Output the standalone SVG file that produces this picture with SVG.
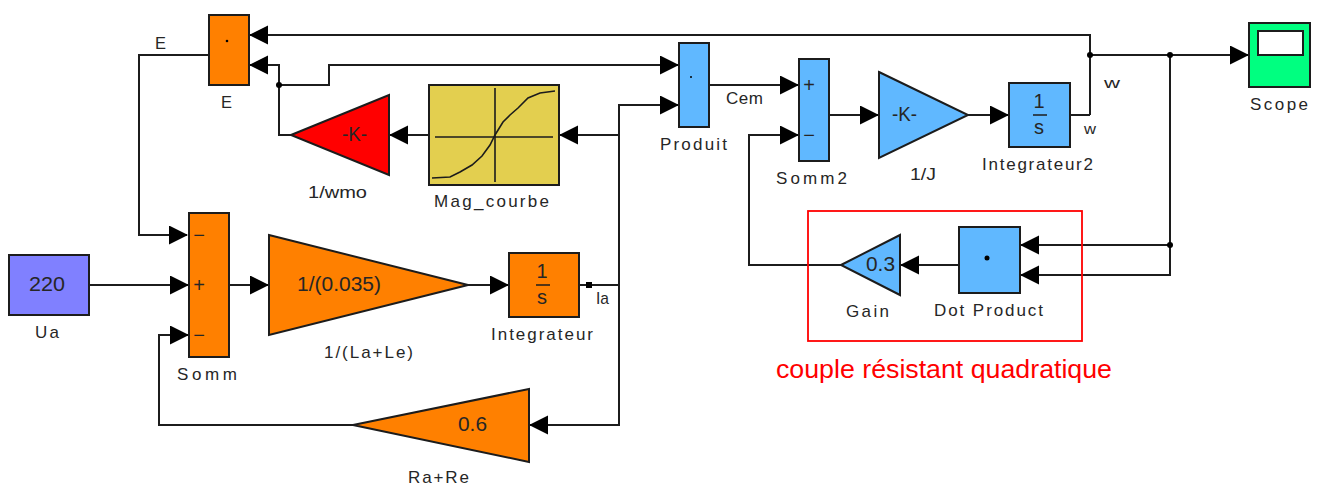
<svg xmlns="http://www.w3.org/2000/svg" width="1321" height="486" viewBox="0 0 1321 486">
<defs>
<marker id="arrow" markerUnits="userSpaceOnUse" markerWidth="20" markerHeight="20" refX="18" refY="9.5" orient="auto"><path d="M0 0L19 9.5L0 19Z" fill="#000"/></marker>
</defs>
<style>
.b{stroke:#1c1c1c;stroke-width:2}
.or{fill:#ff8000}.bl{fill:#60b8ff}
.w{fill:none;stroke:#1c1c1c;stroke-width:2}
.a{marker-end:url(#arrow)}
.t{font-family:"Liberation Sans",Arial,sans-serif;font-size:17px;fill:#262626}
.c{text-anchor:middle}
.s{font-size:20px}
.j{fill:#000}
</style>
<rect width="1321" height="486" fill="#fff"/>
<g id="connectors">
<polyline class="w a" points="209,55 139,55 139,235 187,235"/>
<polyline class="w a" points="1090,115 1090,35 250,35"/>
<polyline class="w" points="1070,115 1090,115"/>
<polyline class="w a" points="1090,55 1248,55"/>
<polyline class="w a" points="291,135 279,135 279,65 250,65"/>
<polyline class="w a" points="279,85 329,85 329,65 678,65"/>
<polyline class="w a" points="429,135 390,135"/>
<polyline class="w a" points="619,135 560,135"/>
<polyline class="w a" points="579,285 619,285 619,105 678,105"/>
<polyline class="w a" points="619,285 619,425 530,425"/>
<polyline class="w a" points="709,85 798,85"/>
<polyline class="w a" points="841,265 749,265 749,135 798,135"/>
<polyline class="w a" points="829,115 878,115"/>
<polyline class="w a" points="968,115 1008,115"/>
<polyline class="w a" points="959,265 901,265"/>
<polyline class="w a" points="1170,55 1170,245 1021,245"/>
<polyline class="w a" points="1170,245 1170,275 1021,275"/>
<polyline class="w a" points="89,285 188,285"/>
<polyline class="w a" points="229,285 268,285"/>
<polyline class="w a" points="468,285 508,285"/>
<polyline class="w a" points="353,425 159,425 159,335 188,335"/>
<circle class="j" cx="1090" cy="55" r="3"/>
<circle class="j" cx="1170" cy="55" r="3"/>
<circle class="j" cx="1170" cy="245" r="3"/>
<circle class="j" cx="279" cy="85" r="3"/>
<rect class="j" x="586" y="282" width="6" height="6"/>
</g>
<g id="E"><rect class="b or" x="209" y="15" width="40" height="70"/><circle class="j" cx="227" cy="41" r="1.3"/><text class="t" x="221" y="108" textLength="11" lengthAdjust="spacingAndGlyphs">E</text></g>
<text id="signal-E" class="t" x="155" y="49" textLength="11" lengthAdjust="spacingAndGlyphs">E</text>
<g id="wmo"><path class="b" d="M291 135L389 95V175Z" fill="#ff0000"/><text class="t s" x="342" y="141" textLength="25" lengthAdjust="spacingAndGlyphs">-K-</text><text class="t" x="308" y="198" textLength="59" lengthAdjust="spacingAndGlyphs">1/wmo</text></g>
<g id="Mag_courbe"><rect class="b" x="429" y="85" width="130" height="100" fill="#e3cf4f"/>
<path d="M495 88V182M435 137H553" fill="none" stroke="#1c1c1c" stroke-width="1.6"/>
<path d="M432 178L450 177L460 172L472 165L482 156L490 145L495 135L503 122L510 115L518 108L528 98L540 93L555 91" fill="none" stroke="#1c1c1c" stroke-width="1.6"/>
<text class="t" x="434" y="207" textLength="115">Mag_courbe</text></g>
<g id="Produit"><rect class="b bl" x="679" y="43" width="30" height="84"/><circle class="j" cx="691" cy="77" r="1"/><text class="t" x="660" y="150" textLength="67">Produit</text></g>
<text id="signal-Cem" class="t" x="726" y="104" textLength="37">Cem</text>
<g id="Somm2"><rect class="b bl" x="799" y="59" width="30" height="102"/><text class="t c s" x="809" y="92">+</text><text class="t c s" x="809" y="142">−</text><text class="t" x="776" y="184" textLength="71">Somm2</text></g>
<g id="J"><path class="b bl" d="M879 72L968 115L879 158Z"/><text class="t s" x="892" y="121" textLength="25" lengthAdjust="spacingAndGlyphs">-K-</text><text class="t" x="910" y="180" textLength="26" lengthAdjust="spacingAndGlyphs">1/J</text></g>
<g id="Integrateur2"><rect class="b bl" x="1009" y="83" width="61" height="64"/><text class="t c s" x="1039" y="108">1</text><path d="M1033 115H1047" stroke="#1c1c1c" stroke-width="1.5"/><text class="t c s" x="1039" y="134">s</text><text class="t" x="982" y="170" textLength="111">Integrateur2</text></g>
<text id="signal-w2" class="t" x="1104" y="88" style="font-size:15px" textLength="16" lengthAdjust="spacingAndGlyphs">w</text>
<text id="signal-w1" class="t" x="1084" y="134" style="font-size:15px" textLength="12" lengthAdjust="spacingAndGlyphs">w</text>
<g id="Scope"><rect x="1249" y="23" width="61" height="64" fill="#00ff80" stroke="#1c1c1c" stroke-width="2"/><rect x="1258" y="31" width="45" height="24" fill="#fff" stroke="#1c1c1c" stroke-width="2"/><text class="t" x="1250" y="110" textLength="58">Scope</text></g>
<g id="Ua"><rect class="b" x="9" y="255" width="80" height="60" fill="#8080ff"/><text class="t s" x="29" y="291" textLength="36" lengthAdjust="spacingAndGlyphs">220</text><text class="t" x="35" y="338" textLength="24">Ua</text></g>
<g id="Somm"><rect class="b or" x="189" y="213" width="40" height="144"/><text class="t c s" x="199" y="242">−</text><text class="t c s" x="199" y="292">+</text><text class="t c s" x="199" y="342">−</text><text class="t" x="177" y="380" textLength="60">Somm</text></g>
<g id="LaLe"><path class="b or" d="M269 235L468 285L269 335Z"/><text class="t s" x="297" y="291" textLength="84" lengthAdjust="spacingAndGlyphs">1/(0.035)</text><text class="t" x="324" y="358" textLength="89">1/(La+Le)</text></g>
<g id="Integrateur"><rect class="b or" x="509" y="253" width="70" height="64"/><text class="t c s" x="542" y="278">1</text><path d="M536 285H550" stroke="#1c1c1c" stroke-width="1.5"/><text class="t c s" x="542" y="304">s</text><text class="t" x="491" y="340" textLength="102">Integrateur</text></g>
<text id="signal-Ia" class="t" x="596" y="304" textLength="13" lengthAdjust="spacingAndGlyphs">Ia</text>
<g id="RaRe"><path class="b or" d="M353 425L529 389V462Z"/><text class="t s" x="458" y="431" textLength="29" lengthAdjust="spacingAndGlyphs">0.6</text><text class="t" x="408" y="483" textLength="61">Ra+Re</text></g>
<rect id="zone" x="808" y="211" width="274" height="130" fill="none" stroke="#ff0000" stroke-width="1.8"/>
<g id="Gain"><path class="b bl" d="M841 265L900 235V295Z"/><text class="t s" x="866" y="271" textLength="29" lengthAdjust="spacingAndGlyphs">0.3</text><text class="t" x="846" y="317" textLength="43">Gain</text></g>
<g id="DotProduct"><rect class="b bl" x="959" y="227" width="61" height="66"/><circle class="j" cx="987" cy="258" r="2.5"/><text class="t" x="934" y="316" textLength="109">Dot Product</text></g>
<text id="zone-label" class="t" x="776" y="378" style="font-size:25px;fill:#ff0000" textLength="336" lengthAdjust="spacingAndGlyphs">couple résistant quadratique</text>
</svg>
